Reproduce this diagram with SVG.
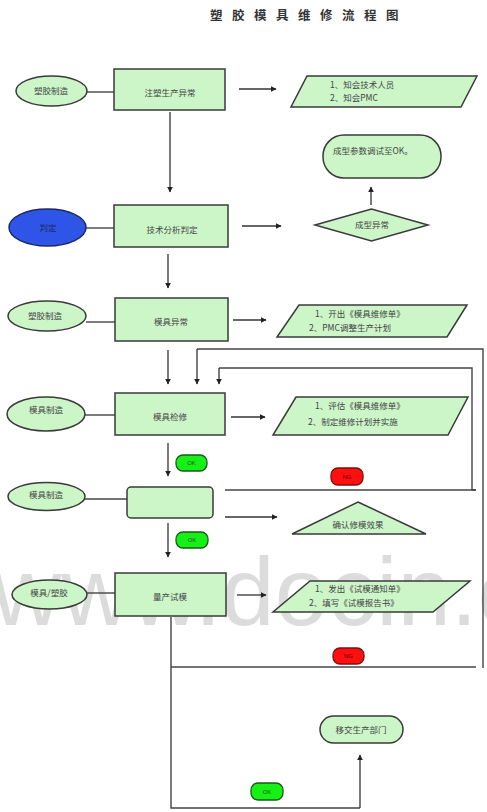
<svg xmlns="http://www.w3.org/2000/svg" width="487" height="812" viewBox="0 0 487 812">
<defs>
<marker id="ah" viewBox="0 0 10 10" refX="9" refY="5" markerWidth="6" markerHeight="6" orient="auto" markerUnits="userSpaceOnUse">
<path d="M0,0 L10,5 L0,10 z" fill="#222"/>
</marker>
<style>
.n{fill:#ccf5c8;stroke:#3a3a3a;stroke-width:1.5}
.t{font-family:"Noto Sans CJK SC","Liberation Serif",serif;font-size:8.5px;fill:#444}
.c{stroke:#444;stroke-width:1.4;fill:none}
.a{stroke:#333;stroke-width:1.3;fill:none;marker-end:url(#ah)}
.ok{fill:#16f016;stroke:#1a5a1a;stroke-width:1.3}
.ng{fill:#ff1010;stroke:#7a1010;stroke-width:1.3}
.bt{font-family:"Liberation Sans",sans-serif;font-size:6px;fill:#225522;text-anchor:middle}
.m{text-anchor:middle}
</style>
</defs>
<rect width="487" height="812" fill="#ffffff"/>
<text x="-8" y="625" font-family="Liberation Sans,Arial,sans-serif" font-size="96" fill="#dcdcdc">www.docin.c</text>
<text x="309" y="20" font-family="Noto Sans CJK SC,sans-serif" font-size="12.5" font-weight="bold" fill="#333" text-anchor="middle" letter-spacing="9.5">塑胶模具维修流程图</text>

<g id="connectors">
<line class="c" x1="87" y1="92" x2="114" y2="92"/>
<line class="a" x1="239" y1="89" x2="276" y2="89"/>
<line class="a" x1="170" y1="112" x2="170" y2="192"/>
<line class="c" x1="86" y1="228" x2="114" y2="228"/>
<line class="a" x1="242" y1="226" x2="281" y2="226"/>
<line class="a" x1="371" y1="205" x2="371" y2="187"/>
<line class="a" x1="168" y1="254" x2="168" y2="288"/>
<line class="c" x1="86" y1="322" x2="115" y2="322"/>
<line class="a" x1="233" y1="320" x2="266" y2="320"/>
<line class="a" x1="168" y1="350" x2="168" y2="384"/>
<polyline class="c" points="483,668 483,349 197,349"/>
<line class="a" x1="197" y1="349" x2="197" y2="384"/>
<polyline class="c" points="476,490 472,490 472,368 219,368"/>
<line class="a" x1="219" y1="368" x2="219" y2="384"/>
<line class="c" x1="225" y1="490" x2="476" y2="490"/>
<line class="c" x1="85" y1="415" x2="115" y2="415"/>
<line class="a" x1="231" y1="417" x2="265" y2="417"/>
<line class="a" x1="168" y1="443" x2="168" y2="476"/>
<line class="c" x1="85" y1="499" x2="127" y2="499"/>
<line class="a" x1="225" y1="517" x2="277" y2="517"/>
<line class="a" x1="168" y1="523" x2="168" y2="557"/>
<line class="c" x1="87" y1="593" x2="115" y2="593"/>
<line class="a" x1="237" y1="595" x2="266" y2="595"/>
<line class="c" x1="171" y1="667" x2="476" y2="667"/>
<polyline class="c" points="171,617 171,808 360,808"/>
<line class="a" x1="360" y1="808" x2="360" y2="755"/>
</g>

<g id="n1"><ellipse class="n" cx="51.5" cy="91" rx="35.5" ry="15"/><text class="t m" x="51" y="94">塑胶制造</text></g>
<g id="n2"><rect class="n" x="114" y="69" width="111" height="41"/><text class="t m" x="170" y="96">注塑生产异常</text></g>
<g id="n3"><polygon class="n" points="307,76 477,76 461,107 291,107"/><text class="t" x="330" y="88">1、知会技术人员</text><text class="t" x="330" y="101">2、知会PMC</text></g>
<g id="n4"><rect class="n" x="323" y="135" width="118" height="43" rx="21"/><text class="t" x="333" y="154">成型参数调试至OK。</text></g>
<g id="n5"><polygon class="n" points="315,225 371.5,209 428,225 371.5,241"/><text class="t m" x="372" y="228">成型异常</text></g>
<g id="n6"><ellipse cx="47.5" cy="227.5" rx="38.5" ry="18.5" fill="#2f55e8" stroke="#1a2a60" stroke-width="1.5"/><text class="t m" x="48" y="231" style="fill:#1a2a60">判定</text></g>
<g id="n7"><rect class="n" x="114" y="205" width="114" height="42"/><text class="t m" x="172" y="233">技术分析判定</text></g>
<g id="n8"><ellipse class="n" cx="47" cy="316" rx="39" ry="15"/><text class="t m" x="45" y="319">塑胶制造</text></g>
<g id="n9"><rect class="n" x="115" y="298" width="113" height="43"/><text class="t m" x="171" y="325">模具异常</text></g>
<g id="n10"><polygon class="n" points="299,305 467,305 447,337 277,337"/><text class="t" x="315" y="317">1、开出《模具维修单》</text><text class="t" x="309" y="331">2、PMC调整生产计划</text></g>
<g id="n11"><ellipse class="n" cx="46" cy="414" rx="39" ry="17"/><text class="t m" x="46" y="413">模具制造</text></g>
<g id="n12"><rect class="n" x="115" y="393" width="110" height="42"/><text class="t m" x="170" y="420">模具检修</text></g>
<g id="n13"><polygon class="n" points="296,397 468,397 448,435 273,435"/><text class="t" x="315" y="409">1、评估《模具维修单》</text><text class="t" x="308" y="425">2、制定维修计划并实施</text></g>
<g id="ok1"><rect class="ok" x="176" y="455" width="31" height="16" rx="7"/><text class="bt" x="191.5" y="465">OK</text></g>
<g id="ng1"><rect class="ng" x="331" y="468" width="32" height="17" rx="7"/><text class="bt" x="347" y="479" style="fill:#660000">NG</text></g>
<g id="n14"><ellipse class="n" cx="46.5" cy="496.5" rx="38.5" ry="14"/><text class="t m" x="46" y="498">模具制造</text></g>
<g id="n15"><rect class="n" x="127" y="487" width="86" height="31" rx="4"/></g>
<g id="n16"><polygon class="n" points="358,502 426,534 292,534"/><text class="t m" x="358" y="528">确认修模效果</text></g>
<g id="ok2"><rect class="ok" x="176" y="532" width="32" height="16" rx="7"/><text class="bt" x="192" y="542">OK</text></g>
<g id="n17"><ellipse class="n" cx="49.5" cy="594.5" rx="37.5" ry="14.5"/><text class="t m" x="49" y="596">模具/塑胶</text></g>
<g id="n18"><rect class="n" x="115" y="573" width="111" height="43"/><text class="t m" x="170" y="600">量产试模</text></g>
<g id="n19"><polygon class="n" points="310,581 470,581 433,612 273,612"/><text class="t" x="315" y="592">1、发出《试模通知单》</text><text class="t" x="309" y="606">2、填写《试模报告书》</text></g>
<g id="ng2"><rect class="ng" x="333" y="648" width="31" height="16" rx="7"/><text class="bt" x="348.5" y="658" style="fill:#660000">NG</text></g>
<g id="n20"><rect class="n" x="320" y="716" width="83" height="27" rx="13.5"/><text class="t m" x="361" y="733">移交生产部门</text></g>
<g id="ok3"><rect class="ok" x="251" y="783" width="32" height="17" rx="7"/><text class="bt" x="267" y="794">OK</text></g>
</svg>
